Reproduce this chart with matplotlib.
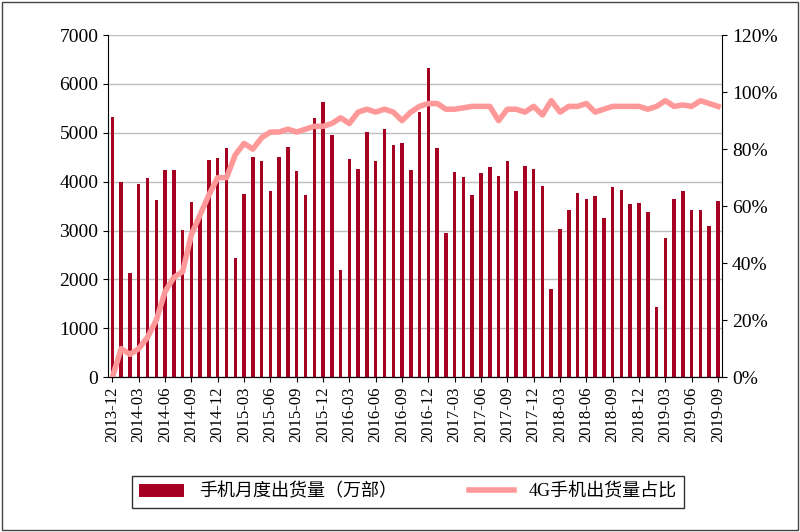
import matplotlib
matplotlib.use("Agg")
import matplotlib.pyplot as plt
import numpy as np

plt.rcParams['font.family'] = ['Liberation Serif', 'Noto Sans CJK SC']

months = []
y, m = 2013, 12
for _ in range(70):
    months.append(f"{y}-{m:02d}")
    m += 1
    if m > 12:
        m = 1; y += 1

shipments = [5330,
 3990,2130,3950,4070,3630,4230,4230,3020,3580,3340,4440,4490,
 4700,2430,3750,4510,4420,3800,4500,4720,4210,3720,5300,5630,
 4950,2200,4470,4260,5010,4430,5070,4760,4790,4240,5420,6320,
 4680,2950,4190,4100,3720,4170,4300,4120,4420,3810,4320,4260,
 3910,1810,3030,3420,3770,3650,3700,3250,3890,3840,3540,3560,
 3390,1430,2840,3650,3820,3420,3420,3090,3610]
share4g = [0,
 10,8,10,14,20,30,35,37,50,57,64,70,
 70,78,82,80,84,86,86,87,86,87,88,88,
 89,91,89,93,94,93,94,93,90,93,95,96,
 96,94,94,94.5,95,95,95,90,94,94,93,95,
 92,97,93,95,95,96,93,94,95,95,95,95,
 94,95,97,95,95.5,95,97,96,95]

fig = plt.figure(figsize=(8, 5.32), dpi=100)
ax = fig.add_axes([0.135, 0.291, 0.768, 0.643])
x = np.arange(len(months))
ax.bar(x, shipments, width=0.4, color='#A50021', label='手机月度出货量（万部）', zorder=2)
ax.set_ylim(0, 7000)
ax.set_yticks(range(0, 7001, 1000))
ax.yaxis.grid(True, color='#BFBFBF', lw=1, zorder=0)
ax.set_axisbelow(True)
ax.set_xlim(-0.5, len(months) - 0.5)
ax.set_xticks(x[::3])
ax.set_xticklabels(months[::3], rotation=90, fontsize=12)
ax.tick_params(axis='y', labelsize=14)
for s in ['top', 'right']:
    ax.spines[s].set_visible(False)
ax2 = ax.twinx()
ax2.plot(x, share4g, color='#FF9999', lw=4, label='4G手机出货量占比', zorder=3)
ax2.set_ylim(0, 120)
ax2.set_yticks(range(0, 121, 20))
ax2.set_yticklabels([f"{v}%" for v in range(0, 121, 20)], fontsize=14)
ax2.spines['top'].set_visible(False)
ax2.spines['left'].set_visible(False)
h1, l1 = ax.get_legend_handles_labels()
h2, l2 = ax2.get_legend_handles_labels()
fig.legend(h1 + h2, l1 + l2, loc='center', bbox_to_anchor=(0.51, 0.075), ncol=2,
           fontsize=13, frameon=True, fancybox=False, edgecolor='black',
           columnspacing=4, handlelength=2.5)
fig.add_artist(plt.Rectangle((0.003, 0.003), 0.994, 0.994, transform=fig.transFigure,
                             fill=False, edgecolor='#444444', lw=1))
fig.savefig('out.png', dpi=100)
